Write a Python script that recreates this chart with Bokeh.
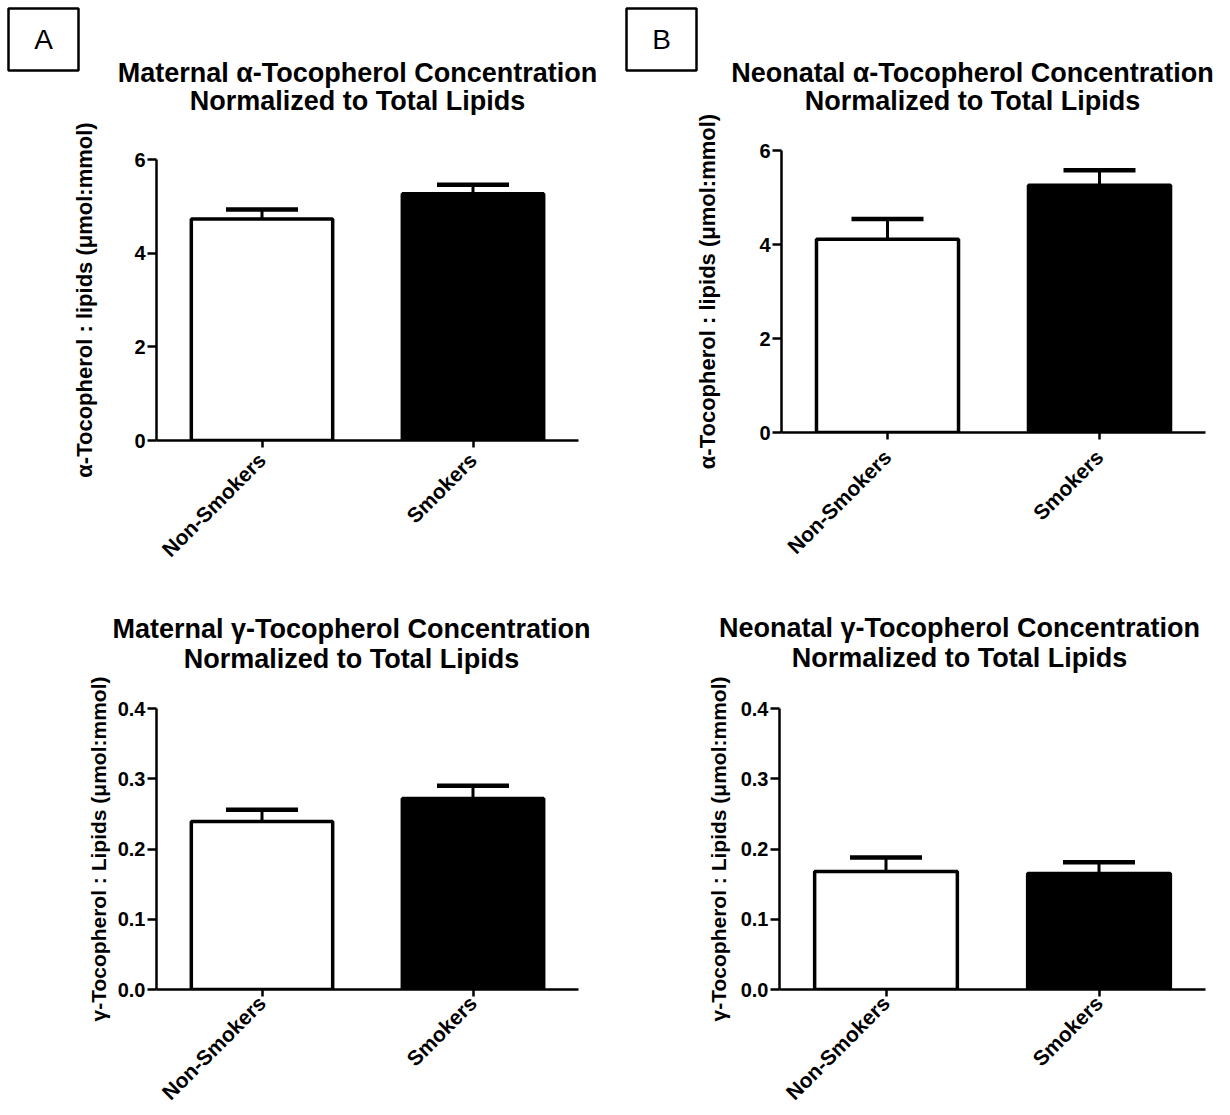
from math import pi
from bokeh.plotting import figure
from bokeh.models import (ColumnDataSource, Range1d, FactorRange, FixedTicker,
                          PrintfTickFormatter, Whisker, TeeHead)
from bokeh.core.properties import value
from bokeh.layouts import column, row
from bokeh.embed import file_html
from bokeh.resources import INLINE

# ---------------- data ----------------
categories = ["Non-Smokers", "Smokers"]
bar_colors = ["white", "black"]

maternal_alpha = [4.73, 5.27]
maternal_alpha_sem = [0.20, 0.19]
neonatal_alpha = [4.11, 5.26]
neonatal_alpha_sem = [0.43, 0.32]
maternal_gamma = [0.239, 0.272]
maternal_gamma_sem = [0.017, 0.018]
neonatal_gamma = [0.168, 0.165]
neonatal_gamma_sem = [0.020, 0.016]

alpha_ticks = [0, 2, 4, 6]
gamma_ticks = [0.0, 0.1, 0.2, 0.3, 0.4]

title_A = ["Maternal \u03b1-Tocopherol Concentration", "Normalized to Total Lipids"]
title_B = ["Neonatal \u03b1-Tocopherol Concentration", "Normalized to Total Lipids"]
title_C = ["Maternal \u03b3-Tocopherol Concentration", "Normalized to Total Lipids"]
title_D = ["Neonatal \u03b3-Tocopherol Concentration", "Normalized to Total Lipids"]
ylabel_alpha = "\u03b1-Tocopherol : lipids (\u03bcmol:mmol)"
ylabel_gamma = "\u03b3-Tocopherol : Lipids (\u03bcmol:mmol)"

FONT = "Liberation Sans"


def no_align(p):
    try:
        p.frame_align = False
    except Exception:
        pass
    return p


def title_fig(width, height, lines, cx, mids, letter=None, letter_c=None):
    t = figure(width=width, height=height, x_range=Range1d(0, width),
               y_range=Range1d(height, 0), output_backend="svg",
               toolbar_location=None, min_border=0,
               x_axis_location=None, y_axis_location=None)
    no_align(t)
    t.grid.visible = False
    t.outline_line_color = None
    t.background_fill_color = "white"
    t.border_fill_color = "white"
    t.text(x=[cx] * len(lines), y=mids, text=lines,
           text_font=value(FONT), text_font_style="bold",
           text_font_size="27px", text_align="center",
           text_baseline="middle", text_color="black")
    if letter is not None:
        t.rect(x=[letter_c[0]], y=[letter_c[1]], width=70, height=62,
               fill_color=None, line_color="black", line_width=2.5)
        t.text(x=[letter_c[0]], y=[letter_c[1]], text=[letter],
               text_font=value(FONT), text_font_size="28px",
               text_align="center", text_baseline="middle", text_color="black")
    return t


def make_panel(values, sems, ticks, fmt, ymax, ylabel, ylabel_size,
               width, height, mb_left, mb_right, mb_top, mb_bottom,
               label_standoff, xlabel_standoff):
    src = ColumnDataSource(dict(
        cat=categories,
        val=values,
        hi=[v + s for v, s in zip(values, sems)],
        color=bar_colors,
    ))
    p = figure(x_range=FactorRange(*categories), y_range=Range1d(0, ymax),
               width=width, height=height, output_backend="svg",
               toolbar_location=None,
               min_border_left=mb_left, min_border_right=mb_right,
               min_border_top=mb_top, min_border_bottom=mb_bottom)
    no_align(p)
    p.outline_line_color = None
    p.grid.visible = False
    p.background_fill_color = "white"
    p.border_fill_color = "white"

    whisk = Whisker(source=src, base="cat", upper="hi", lower="val",
                    dimension="height", line_color="black", line_width=3,
                    lower_head=None,
                    upper_head=TeeHead(size=72, line_width=4.5, line_color="black"))
    p.add_layout(whisk)
    p.vbar(x="cat", top="val", width=0.67, source=src, fill_color="color",
           line_color="black", line_width=3.5)

    for ax in (p.xaxis[0], p.yaxis[0]):
        ax.axis_line_width = 2.5
        ax.axis_line_color = "black"
        ax.major_tick_line_width = 2.5
        ax.major_tick_line_color = "black"
        ax.major_tick_in = 0
        ax.minor_tick_line_color = None
        ax.major_label_text_font = FONT
        ax.major_label_text_font_style = "bold"
        ax.major_label_text_color = "black"

    ya = p.yaxis[0]
    ya.ticker = FixedTicker(ticks=ticks)
    ya.formatter = PrintfTickFormatter(format=fmt)
    ya.major_tick_out = 9
    ya.major_label_text_font_size = "20px"
    ya.major_label_standoff = 2
    ya.axis_label = ylabel
    ya.axis_label_text_font = FONT
    ya.axis_label_text_font_style = "bold"
    ya.axis_label_text_font_size = ylabel_size
    ya.axis_label_text_color = "black"
    ya.axis_label_standoff = label_standoff

    xa = p.xaxis[0]
    xa.major_tick_out = 7
    xa.major_label_orientation = pi / 4
    xa.major_label_text_font_size = "21px"
    xa.major_label_standoff = xlabel_standoff
    return p


# top row: title strip 0..115, panels 115..573 ; bottom row: 573..675, 675..1115
tA = title_fig(615, 115, title_A, 357, [72.5, 100], "A", (43, 39))
tB = title_fig(615, 115, title_B, 357, [72.5, 100], "B", (46, 39))
tC = title_fig(615, 102, title_C, 351, [55, 85])
tD = title_fig(615, 102, title_D, 344, [54, 84])

pA = make_panel(maternal_alpha, maternal_alpha_sem, alpha_ticks, "%d", 6, ylabel_alpha, "22px",
                615, 458, 156, 37, 44, 133, 34, 9)
pB = make_panel(neonatal_alpha, neonatal_alpha_sem, alpha_ticks, "%d", 6, ylabel_alpha, "22px",
                615, 458, 166, 25, 35, 141, 36, 14)
pC = make_panel(maternal_gamma, maternal_gamma_sem, gamma_ticks, "%.1f", 0.4, ylabel_gamma, "21px",
                615, 440, 156, 37, 33, 126, 5, 3)
pD = make_panel(neonatal_gamma, neonatal_gamma_sem, gamma_ticks, "%.1f", 0.4, ylabel_gamma, "21px",
                615, 440, 164, 25, 33, 126, 8, 3)

layout = row(column(tA, pA, tC, pC), column(tB, pB, tD, pD))

open("out.html", "w").write(file_html(layout, INLINE))
